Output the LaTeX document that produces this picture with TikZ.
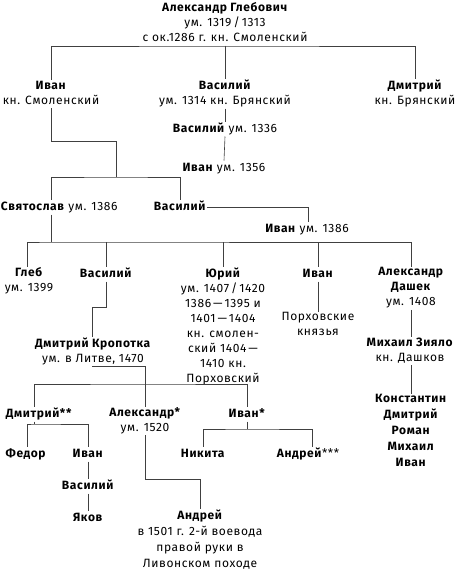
\documentclass[tikz,border=0pt]{standalone}
\usepackage{fontspec}
\setmainfont{Fira Sans}[Numbers=Proportional,LetterSpace=5]
\begin{document}
\begin{tikzpicture}[x=1pt,y=-1pt,
  every node/.style={inner sep=0pt,outer sep=1pt,align=center,anchor=north,yshift=11pt,
    font=\fontsize{12}{15}\selectfont,
    execute at begin node={\rule{0pt}{10pt}},
    execute at end node={\rule[-3pt]{0pt}{3pt}}},
  wide/.style={font=\fontsize{12}{16}\selectfont},
  ln/.style={draw=black!75,line width=0.6pt}]
\useasboundingbox (0,0) rectangle (459,570);
% nodes (coordinates give the baseline of the first line)
\node (root) at (225,12.5) {\textbf{Александр Глебович}\\ум. 1319\,/\,1313\\с ок.1286 г. кн. Смоленский};
\node (ivan1) at (51,91) {\textbf{Иван}\\кн. Смоленский};
\node (vas1) at (225,90) {\textbf{Василий}\\ум. 1314 кн. Брянский};
\node (dm1) at (415,90) {\textbf{Дмитрий}\\кн. Брянский};
\node (vas2) at (225,132.5) {\textbf{Василий} ум. 1336};
\node (ivan2) at (224,171.5) {\textbf{Иван} ум. 1356};
\node[anchor=north west] (svyat) at (0,210.5) {\textbf{Святослав} ум. 1386};
\node (vas3) at (180,210.5) {\textbf{Василий}};
\node (ivan3) at (307,232.5) {\textbf{Иван} ум. 1386};
\node (gleb) at (29,277.5) {\textbf{Глеб}\\ум. 1399};
\node (vas4) at (106,277.5) {\textbf{Василий}};
\node (yuri) at (223,277.5) {\textbf{Юрий}\\ум. 1407\,/\,1420\\1386\,—\,1395 и\\1401\,—\,1404\\кн. смолен-\\ский 1404\,—\\1410 кн.\\Порховский};
\node (ivan4) at (318,277.5) {\textbf{Иван}};
\node (porkh) at (318,322.5) {Порховские\\князья};
\node (alex) at (411,277.5) {\textbf{Александр}\\\textbf{Дашек}\\ум. 1408};
\node (krop) at (93,347.5) {\textbf{Дмитрий Кропотка}\\ум. в Литве, 1470};
\node (mikh) at (410,347.5) {\textbf{Михаил Зияло}\\кн. Дашков};
\node[wide] (konst) at (411,404.5) {\textbf{Константин}\\\textbf{Дмитрий}\\\textbf{Роман}\\\textbf{Михаил}\\\textbf{Иван}};
\node (dm2) at (39,417.5) {\textbf{Дмитрий**}};
\node (alex2) at (145,417.5) {\textbf{Александр*}\\ум. 1520};
\node (ivan5) at (247,417.5) {\textbf{Иван*}};
\node (fedor) at (26,457.5) {\textbf{Федор}};
\node (ivan6) at (88,457.5) {\textbf{Иван}};
\node (nikita) at (203,457.5) {\textbf{Никита}};
\node (andr1) at (308,457.5) {\textbf{Андрей}***};
\node (vas5) at (88,489.5) {\textbf{Василий}};
\node (yakov) at (88,521.5) {\textbf{Яков}};
\node[wide] (andr2) at (200,520) {\textbf{Андрей}\\в 1501 г. 2-й воевода\\правой руки в\\Ливонском походе};
% bends and bars
\coordinate (b1) at (225,57);
\coordinate (k1) at (116,152);
\coordinate (b2) at (116,188);
\coordinate (b3) at (51,253);
\coordinate (k2) at (92,318);
\coordinate (k3) at (145,377);
\coordinate (b4) at (145,395);
\coordinate (b5) at (34,435);
\coordinate (b6) at (247,440);
\coordinate (k4) at (200,490);
% connectors
\draw[ln] (root.south) -- (vas1.north);
\draw[ln] (ivan1.north) |- (b1) -| (dm1.north);
\draw[ln] (vas1.south) -- (vas2.north);
\draw[ln] (vas2.south) -- (ivan2.north);
\draw[ln] (ivan1.south) |- (k1) -- (b2);
\draw[ln] ([xshift=51pt]svyat.north west) |- (b2) -| (vas3.north);
\draw[ln] (vas3.east) -| ([xshift=1pt]ivan3.north);
\draw[ln] ([xshift=51pt]svyat.south west) -- (b3);
\draw[ln] ([xshift=-2pt]gleb.north) |- (b3) -| (alex.north);
\draw[ln] (vas4.north) -- (vas4.north |- b3);
\draw[ln] (yuri.north) -- (yuri.north |- b3);
\draw[ln] (ivan4.north) -- (ivan4.north |- b3);
\draw[ln] (ivan4.south) -- (porkh.north);
\draw[ln] (alex.south) -- ([xshift=1pt]mikh.north);
\draw[ln] ([xshift=1pt]mikh.south) -- (konst.north);
\draw[ln] (vas4.south) |- (k2) -- (k2 |- krop.north);
\draw[ln] (k2 |- krop.south) |- (k3) -- (alex2.north);
\draw[ln] ([xshift=-5pt]dm2.north) |- (b4) -| (ivan5.north);
\draw[ln] ([xshift=-5pt]dm2.south) -- (b5);
\draw[ln] ([xshift=1pt]fedor.north) |- (b5) -| (ivan6.north);
\draw[ln] (ivan6.south) -- (vas5.north);
\draw[ln] (vas5.south) -- (yakov.north);
\draw[ln] (ivan5.south) -- (b6);
\draw[ln] (nikita.north) |- (b6) -| ([xshift=4pt]andr1.north);
\draw[ln] (alex2.south) |- (k4) -- (andr2.north);
\end{tikzpicture}
\end{document}
